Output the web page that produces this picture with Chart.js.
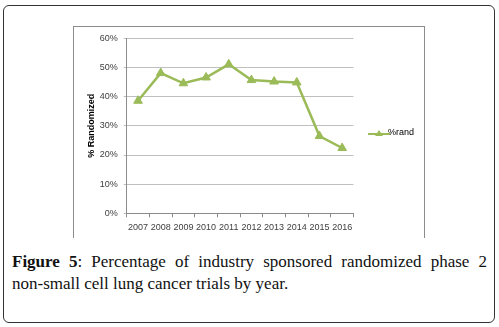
<!DOCTYPE html>
<html>
<head>
<meta charset="utf-8">
<script src="https://cdn.jsdelivr.net/npm/chart.js@4"></script>
<style>
  body { margin: 0; background: #fff; width: 499px; height: 327px; position: relative; overflow: hidden; }
  #frame { position: absolute; left: 3px; top: 5px; width: 490px; height: 316px; border: 1.5px solid #333; border-radius: 6px; }
  #picture { position: absolute; left: 73px; top: 26px; width: 350px; height: 211px; border: 1px solid #8c8c8c; border-bottom: none; }
  #chartBox { position: absolute; left: 74px; top: 27px; width: 350px; height: 210px; }
  #caption { position: absolute; left: 12px; top: 251px; width: 475px; font-family: "Liberation Serif", serif; font-size: 17px; line-height: 22px; text-align: justify; color: #111; }
  .nw { white-space: nowrap; }
</style>
</head>
<body>
<div id="frame"></div>
<div id="picture"></div>
<div id="chartBox"><canvas id="myChart" width="350" height="210"></canvas></div>
<div id="caption"><b>Figure 5</b>: Percentage of industry sponsored randomized phase 2 <span class="nw">non-small</span> cell lung cancer trials by year.</div>
<script>
let years = ['2007', '2008', '2009', '2010', '2011', '2012', '2013', '2014', '2015', '2016'];
let pctRand = [38.6, 48.1, 44.6, 46.6, 51.1, 45.7, 45.2, 44.9, 26.5, 22.4];
let yTicks = [0, 10, 20, 30, 40, 50, 60];
let seriesName = '%rand';

let green = '#9BBB59';

// legend symbol: short line with triangle on it, like Excel
let legendIcon = document.createElement('canvas');
legendIcon.width = 22;
legendIcon.height = 10;
let ic = legendIcon.getContext('2d');
ic.strokeStyle = green;
ic.lineWidth = 2;
ic.beginPath(); ic.moveTo(0, 6); ic.lineTo(22, 6); ic.stroke();
ic.fillStyle = green;
ic.beginPath(); ic.moveTo(11, 2); ic.lineTo(15, 8); ic.lineTo(7, 8); ic.closePath(); ic.fill();

// keep the legend where Excel put it while the plot area is narrowed
let legendShift = {
    id: 'legendShift',
    afterLayout: (chart) => {
        let lg = chart.legend;
        lg.left += 13; lg.right += 13;
        lg.top -= 4; lg.bottom -= 4;
    }
};

let ctx = document.getElementById('myChart').getContext('2d');

let data = {
    type: 'line',
    data: {
        labels: years,
        datasets: [{
            label: seriesName,
            data: pctRand,
            borderColor: green,
            backgroundColor: green,
            borderWidth: 2.5,
            fill: false,
            tension: 0,
            pointStyle: 'triangle',
            pointRadius: 5,
            pointBackgroundColor: green,
            pointBorderColor: green,
            pointBorderWidth: 1,
        }]
    },
    options: {
        responsive: false,
        animation: false,
        layout: { padding: { left: 8, top: 10, right: 13, bottom: 0 } },
        plugins: {
            tooltip: { enabled: false },
            legend: {
                position: 'right',
                labels: {
                    usePointStyle: true,
                    pointStyle: legendIcon,
                    padding: 8,
                    color: '#404040',
                    font: { family: 'Liberation Sans', size: 9 },
                    generateLabels: (chart) => [{
                        text: seriesName,
                        pointStyle: legendIcon,
                        fillStyle: green,
                        strokeStyle: green,
                        datasetIndex: 0,
                    }]
                }
            }
        },
        scales: {
            x: {
                offset: true,
                afterFit: (s) => { s.height = 23.7; },
                grid: { offset: true, drawOnChartArea: false, drawTicks: true, tickLength: 4, color: '#8c8c8c' },
                border: { color: '#8c8c8c' },
                ticks: { color: '#404040', padding: 5, autoSkip: false, maxRotation: 0, font: { family: 'Liberation Sans', size: 9 } }
            },
            y: {
                min: 0,
                max: 60,
                afterFit: (s) => { s.width = 44.7; },
                afterBuildTicks: (s) => { s.ticks = yTicks.map(v => ({ value: v })); },
                grid: { color: '#bfbfbf', tickLength: 3, drawTicks: true },
                border: { color: '#8c8c8c' },
                title: { display: true, text: '% Randomized', color: '#000', padding: { top: 4, bottom: 0 }, font: { family: 'Liberation Sans', size: 9, weight: 'bold' } },
                ticks: { color: '#404040', padding: 6, callback: (v) => v + '%', font: { family: 'Liberation Sans', size: 9 } }
            }
        }
    },
    plugins: [legendShift]
};

let myChart = new Chart(ctx, data);
</script>
</body>
</html>
